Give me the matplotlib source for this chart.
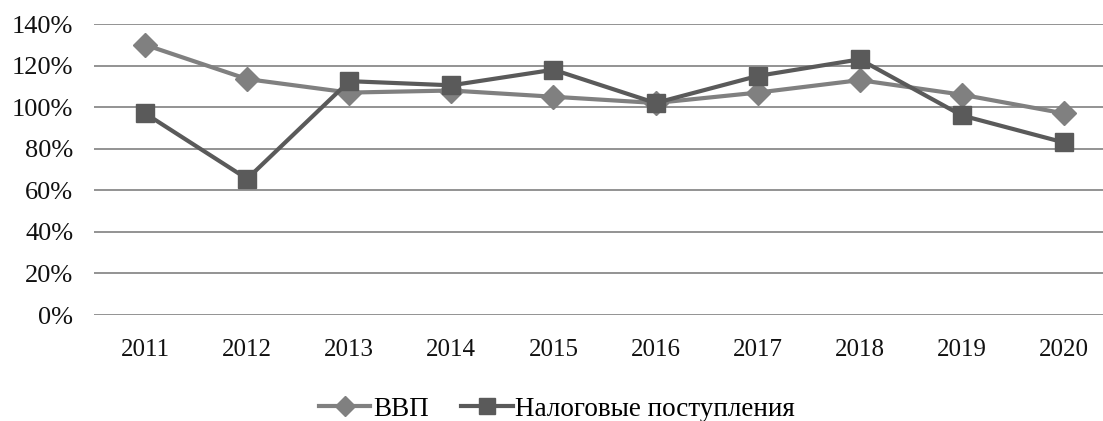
import matplotlib

matplotlib.use("Agg")

import matplotlib.pyplot as plt
from matplotlib.ticker import FuncFormatter

years = ["2011", "2012", "2013", "2014", "2015", "2016", "2017", "2018", "2019", "2020"]
gdp = [130, 113.5, 107, 108, 105, 102, 107, 113, 106, 97]
tax = [97, 65.5, 112.5, 110.5, 118, 102, 115, 123, 96, 83]
y_ticks = [0, 20, 40, 60, 80, 100, 120, 140]

plt.rcParams["font.family"] = ["Liberation Serif", "DejaVu Serif"]

fig = plt.figure(figsize=(11.03, 4.21), dpi=100)
ax = fig.add_axes([94 / 1103, (421 - 315) / 421, (1103 - 94) / 1103, 291 / 421])

x = list(range(len(years)))
ax.plot(x, gdp, color="#808080", linewidth=3, marker="D", markersize=12,
        label="ВВП", zorder=3)
ax.plot(x, tax, color="#5a5a5a", linewidth=3, marker="s", markersize=13,
        label="Налоговые поступления", zorder=4)

ax.set_xlim(-0.5, 9.5 - 12 / 102)
ax.set_ylim(0, 140)
ax.set_yticks(y_ticks)
ax.yaxis.set_major_formatter(FuncFormatter(lambda v, p: f"{v:.0f}%"))
ax.set_xticks(x)
ax.set_xticklabels(years)
ax.tick_params(axis="both", length=0, labelsize=18, colors="#111111")
ax.tick_params(axis="y", labelsize=19, pad=15)
ax.tick_params(axis="x", pad=17)
ax.grid(axis="y", color="#8a8a8a", linewidth=1.3)
ax.set_axisbelow(True)
for s in ax.spines.values():
    s.set_visible(False)

fig.legend(loc="center", bbox_to_anchor=(557 / 1103, 1 - 409 / 421), ncol=2,
           frameon=False, fontsize=19.5, handlelength=1.9, handletextpad=0.1,
           columnspacing=1.2, markerscale=0.85)

fig.savefig("out.png", dpi=100)
